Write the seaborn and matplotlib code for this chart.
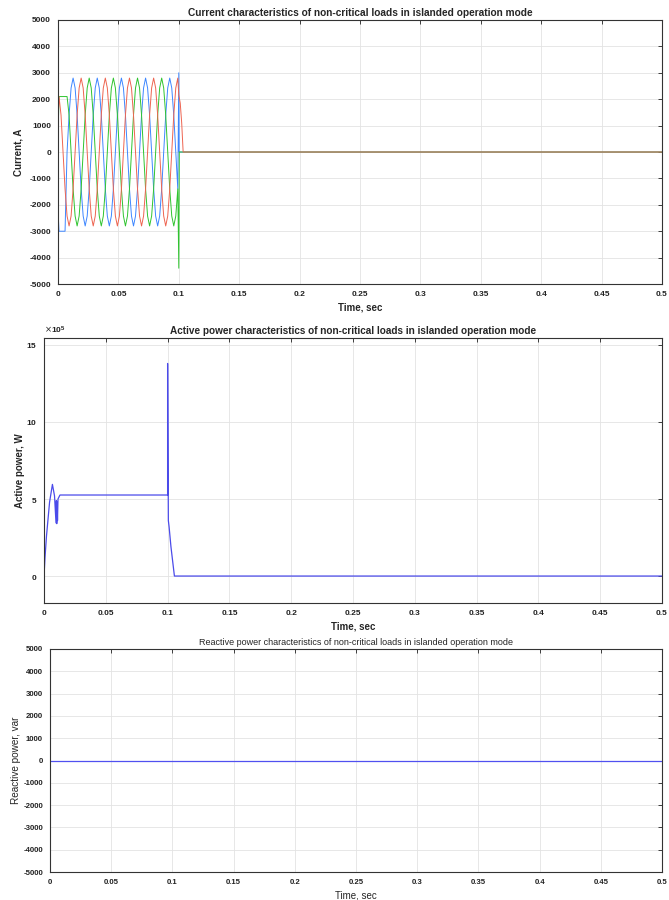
import numpy as np
import pandas as pd
import matplotlib
matplotlib.use("Agg")
import matplotlib.pyplot as plt
import matplotlib.ticker as mticker
import seaborn as sns

# ---------------------------------------------------------------------------
# Load current (three phases), A.  Samples every 1/600 s, offset by 1/1200 s.
# ---------------------------------------------------------------------------
t_samples = np.arange(1, 120, 2) / 1200.0          # 60 sampling instants up to 0.1 s

ia_head_t = [0.0]
ia_head = [-2200]
ia_mid = [-3000, -3000, -3000, -3000, 0, 1400, 2425, 2800, 2425, 1400, 0, -1400,
          -2425, -2800, -2425, -1400, 0, 1400, 2425, 2800, 2425, 1400, 0, -1400,
          -2425, -2800, -2425, -1400, 0, 1400, 2425, 2800, 2425, 1400, 0, -1400,
          -2425, -2800, -2425, -1400, 0, 1400, 2425, 2800, 2425, 1400, 0, -1400,
          -2425, -2800, -2425, -1400, 0, 1400, 2425, 2800, 2425, 1400, 0, -1400]
ia_tail_t = [0.1, 0.1003, 0.5]
ia_tail = [3000, 0, 0]

ib_head_t = [0.0]
ib_head = [1200]
ib_mid = [2100, 1400, 0, -1400, -2425, -2800, -2425, -1400, 0, 1400, 2425, 2800,
          2425, 1400, 0, -1400, -2425, -2800, -2425, -1400, 0, 1400, 2425, 2800,
          2425, 1400, 0, -1400, -2425, -2800, -2425, -1400, 0, 1400, 2425, 2800,
          2425, 1400, 0, -1400, -2425, -2800, -2425, -1400, 0, 1400, 2425, 2800,
          2425, 1400, 0, -1400, -2425, -2800, -2425, -1400, 0, 1400, 2425, 2800]
ib_tail_t = [0.1, 0.1012, 0.1024, 0.1036, 0.5]
ib_tail = [2150, 1850, 1100, 0, 0]

ic_head_t = [0.0]
ic_head = [600]
ic_mid = [2100, 2100, 2100, 2100, 2100, 1400, 0, -1400, -2425, -2800, -2425, -1400,
          0, 1400, 2425, 2800, 2425, 1400, 0, -1400, -2425, -2800, -2425, -1400,
          0, 1400, 2425, 2800, 2425, 1400, 0, -1400, -2425, -2800, -2425, -1400,
          0, 1400, 2425, 2800, 2425, 1400, 0, -1400, -2425, -2800, -2425, -1400,
          0, 1400, 2425, 2800, 2425, 1400, 0, -1400, -2425, -2800, -2425, -1400]
ic_tail_t = [0.1, 0.1004, 0.5]
ic_tail = [-4400, 0, 0]

# ---------------------------------------------------------------------------
# Active power, W
# ---------------------------------------------------------------------------
p_time = [0.0, 0.0008, 0.002, 0.0045, 0.0068, 0.0085, 0.0097, 0.0100, 0.0103,
          0.0106, 0.0109, 0.0113, 0.0129, 0.1, 0.1, 0.1006, 0.1012, 0.1027,
          0.1055, 0.5]
p_watts = [0.0, 1.2e5, 2.6e5, 4.8e5, 5.95e5, 5.2e5, 3.45e5, 4.9e5, 3.4e5,
           4.8e5, 3.6e5, 5.0e5, 5.26e5, 5.26e5, 13.8e5, 3.6e5, 3.2e5, 1.9e5,
           0.0, 0.0]

# ---------------------------------------------------------------------------
# Reactive power, var
# ---------------------------------------------------------------------------
q_time = [0.0, 0.5]
q_var = [0.0, 0.0]

time_ticks = [0, 0.05, 0.1, 0.15, 0.2, 0.25, 0.3, 0.35, 0.4, 0.45, 0.5]
time_labels = ["0", "0.05", "0.1", "0.15", "0.2", "0.25", "0.3", "0.35", "0.4", "0.45", "0.5"]
current_ticks = [-5000, -4000, -3000, -2000, -1000, 0, 1000, 2000, 3000, 4000, 5000]
power_ticks = [0, 5e5, 10e5, 15e5]
reactive_ticks = [-5000, -4000, -3000, -2000, -1000, 0, 1000, 2000, 3000, 4000, 5000]

titles = [
    "Current characteristics of non-critical loads in islanded operation mode",
    "Active power characteristics of non-critical loads in islanded operation mode",
    "Reactive power characteristics of non-critical loads in islanded operation mode",
]

sns.set_style("white")
plt.rcParams["font.family"] = ["Liberation Sans", "DejaVu Sans"]

fig = plt.figure(figsize=(6.69, 9.0), dpi=100)
ax1 = fig.add_axes([0.0867, 0.6844, 0.9028, 0.2934])
ax2 = fig.add_axes([0.0658, 0.3300, 0.9237, 0.2944])
ax3 = fig.add_axes([0.0747, 0.0311, 0.9148, 0.2478])

phase_colors = ["#3d86ff", "#2fc42f", "#ee6450"]


def phase_frame(ht, hv, mv, tt, tv):
    return pd.DataFrame({
        "t": list(ht) + list(t_samples) + list(tt),
        "i": list(hv) + list(mv) + list(tv),
    })


phases = [
    phase_frame(ia_head_t, ia_head, ia_mid, ia_tail_t, ia_tail),
    phase_frame(ic_head_t, ic_head, ic_mid, ic_tail_t, ic_tail),
    phase_frame(ib_head_t, ib_head, ib_mid, ib_tail_t, ib_tail),
]
for df, c in zip(phases, phase_colors):
    sns.lineplot(data=df, x="t", y="i", ax=ax1, color=c, lw=0.7,
                 estimator=None, sort=False)

sns.lineplot(x=p_time, y=p_watts, ax=ax2, color="#4b4bea", lw=0.9,
             estimator=None, sort=False)
sns.lineplot(x=q_time, y=q_var, ax=ax3, color="#5050f0", lw=0.9,
             estimator=None, sort=False)


def style_axes(ax, yticks, ylim, title, ylabel, title_size=7.3, title_weight="bold",
               label_weight="bold", ypad=4, tick_size=6, ylabel_size=7):
    ax.set_xlim(0, 0.5)
    ax.set_ylim(*ylim)
    ax.set_xticks(time_ticks)
    ax.set_xticklabels(time_labels)
    ax.set_yticks(yticks)
    ax.grid(True, color="#e3e3e3", lw=0.6)
    ax.set_axisbelow(True)
    for s in ax.spines.values():
        s.set_color("#333333")
        s.set_linewidth(0.8)
    ax.tick_params(direction="in", length=3, width=0.6, labelsize=tick_size,
                   top=True, right=True, colors="#222222", pad=5)
    ax.set_title(title, fontsize=title_size, fontweight=title_weight, pad=3)
    ax.set_xlabel("Time, sec", fontsize=7, fontweight=label_weight, labelpad=3)
    ax.set_ylabel(ylabel, fontsize=ylabel_size, fontweight=label_weight, labelpad=ypad)


def bold_ticks(ax):
    for lab in ax.get_xticklabels() + ax.get_yticklabels():
        lab.set_fontweight("bold")


style_axes(ax1, current_ticks, (-5000, 5000), titles[0], "Current, A")
ax1.set_yticklabels([str(v) for v in current_ticks])
bold_ticks(ax1)

style_axes(ax2, power_ticks, (-1.75e5, 15.45e5), titles[1], "Active power, W",
           title_size=7.2, ypad=1)
fmt = mticker.ScalarFormatter(useMathText=True)
fmt.set_powerlimits((5, 5))
ax2.yaxis.set_major_formatter(fmt)
ax2.yaxis.get_offset_text().set_fontsize(6)
ax2.yaxis.get_offset_text().set_fontweight("bold")
bold_ticks(ax2)

style_axes(ax3, reactive_ticks, (-5000, 5000), titles[2], "Reactive power, var",
           title_size=6.5, title_weight="normal", label_weight="normal",
           ypad=2, tick_size=5.6, ylabel_size=7.2)
ax3.set_yticklabels([str(v) for v in reactive_ticks])
bold_ticks(ax3)

fig.savefig("out.png", dpi=100)
